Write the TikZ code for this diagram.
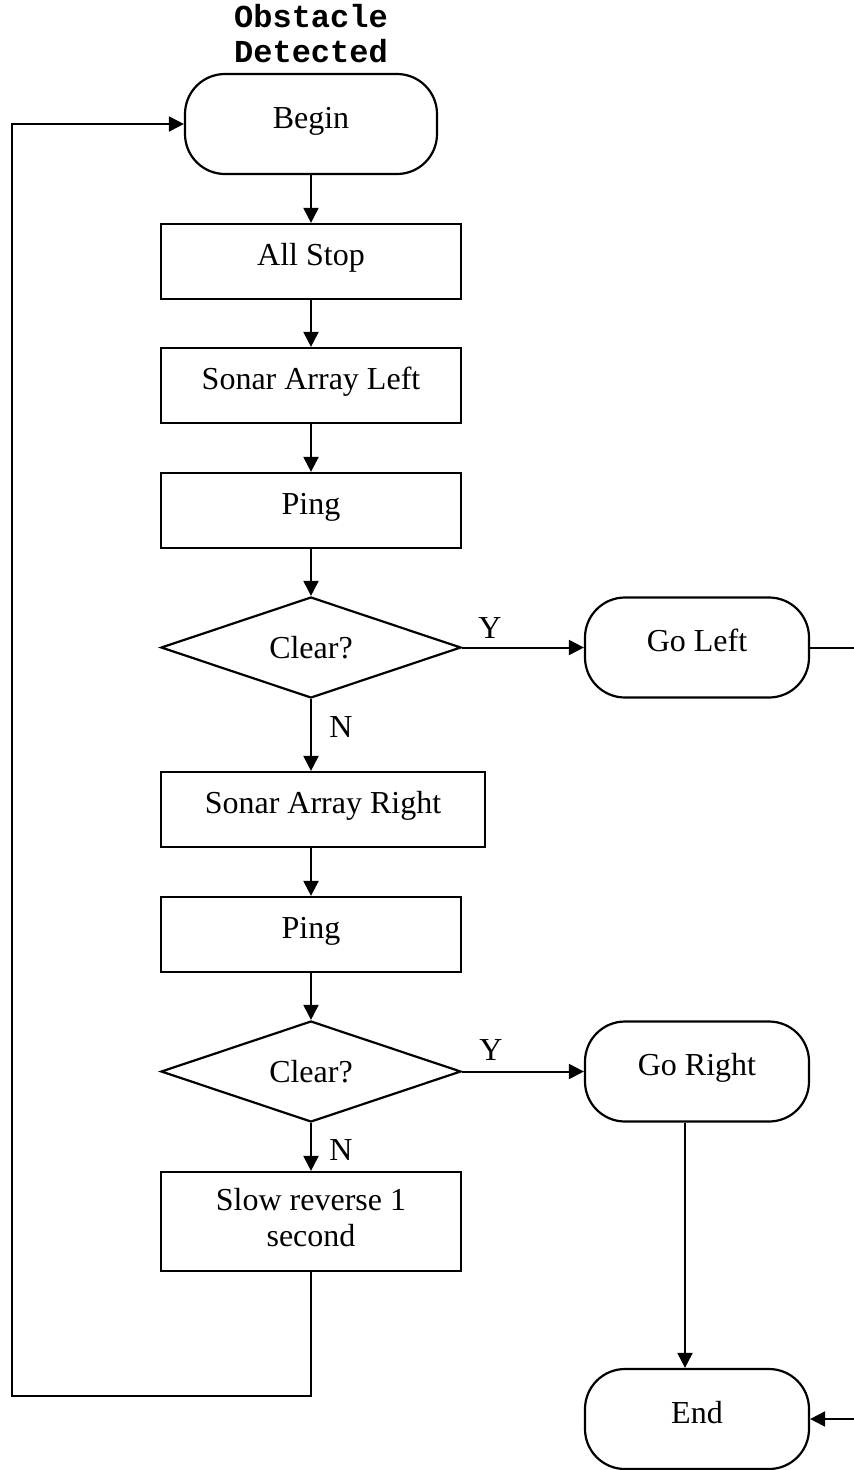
\documentclass[tikz,border=0pt]{standalone}
\usepackage{fontspec}
\setmainfont{Liberation Serif}
\setmonofont{Liberation Mono}
\usetikzlibrary{shapes.geometric,arrows.meta}
\begin{document}
\begin{tikzpicture}[x=1pt,y=-1pt,
  every node/.style={font=\fontsize{32}{36}\selectfont},
  boxbase/.style={draw, line width=2.2pt, rectangle, minimum width=300pt,
    minimum height=75pt, inner sep=0pt},
  procbox/.style={boxbase, text height=22pt, text depth=13.8pt},
  termbox/.style={draw, line width=2.2pt, rectangle, rounded corners=40pt,
    minimum width=224pt, minimum height=100pt, inner sep=0pt,
    text height=22pt, text depth=13.8pt},
  decbox/.style={draw, line width=2.2pt, diamond, shape aspect=3,
    minimum width=300pt, minimum height=101pt, inner sep=0pt,
    text height=21.2pt, text depth=0pt},
  lab/.style={inner sep=0pt, text height=21.2pt, text depth=0pt},
  arr/.style={line width=2pt, -{Triangle[length=15pt,width=15pt]}}
]
\useasboundingbox (0,0) rectangle (854,1470);
\clip (0,0) rectangle (854,1470);

% title above the start terminal
\node[font=\fontsize{32}{35}\selectfont\ttfamily\bfseries, inner sep=0pt]
  (title) at (311,37.5) {\begin{tabular}{@{}c@{}}Obstacle\\Detected\end{tabular}};

% main column
\node[termbox, minimum width=252pt] (begin) at (311,124) {Begin};
\node[procbox] (stop) at (311,261.5) {All Stop};
\node[procbox] (sal) at (311,385.5) {Sonar Array Left};
\node[procbox] (ping1) at (311,510.5) {Ping};
\node[decbox] (d1) at (311,647.5) {Clear?};
\node[procbox, minimum width=324pt] (sar) at (323,809.5) {Sonar Array Right};
\node[procbox] (ping2) at (311,934.5) {Ping};
\node[decbox] (d2) at (311,1071.5) {Clear?};
\node[boxbase, minimum height=99pt] (slow) at (311,1221.5)
  {\begin{tabular}{@{}c@{}}Slow reverse 1\\second\end{tabular}};

% right column
\node[termbox] (goleft) at (697,647.5) {Go Left};
\node[termbox] (goright) at (697,1071.5) {Go Right};
\node[termbox] (end) at (697,1419) {End};

% branch labels
\node[lab] (y1) at (490,628) {Y};
\node[lab] (n1) at (341,727) {N};
\node[lab] (y2) at (491,1050) {Y};
\node[lab] (n2) at (341,1150) {N};

% connectors
\draw[arr] (begin) -- (stop);
\draw[arr] (stop) -- (sal);
\draw[arr] (sal) -- (ping1);
\draw[arr] (ping1) -- (d1);
\draw[arr] (d1.south) -- (d1.south |- sar.north);
\draw[arr] (sar.south -| ping2.north) -- (ping2.north);
\draw[arr] (ping2) -- (d2);
\draw[arr] (d2) -- (slow);
\draw[arr] (d1.east) -- (goleft.west);
\draw[arr] (d2.east) -- (goright.west);
\draw[arr] ([xshift=-12pt]goright.south) -- ([xshift=-12pt]end.north);

% loop back to the start
\coordinate (loopcorner) at (12,1396);
\draw[arr] (slow.south) |- (loopcorner) |- (begin.west);

% return path along the right margin
\coordinate (rightside) at (880,1000);
\draw[arr] (goleft.east) -| (rightside) |- (end.east);
\end{tikzpicture}
\end{document}
